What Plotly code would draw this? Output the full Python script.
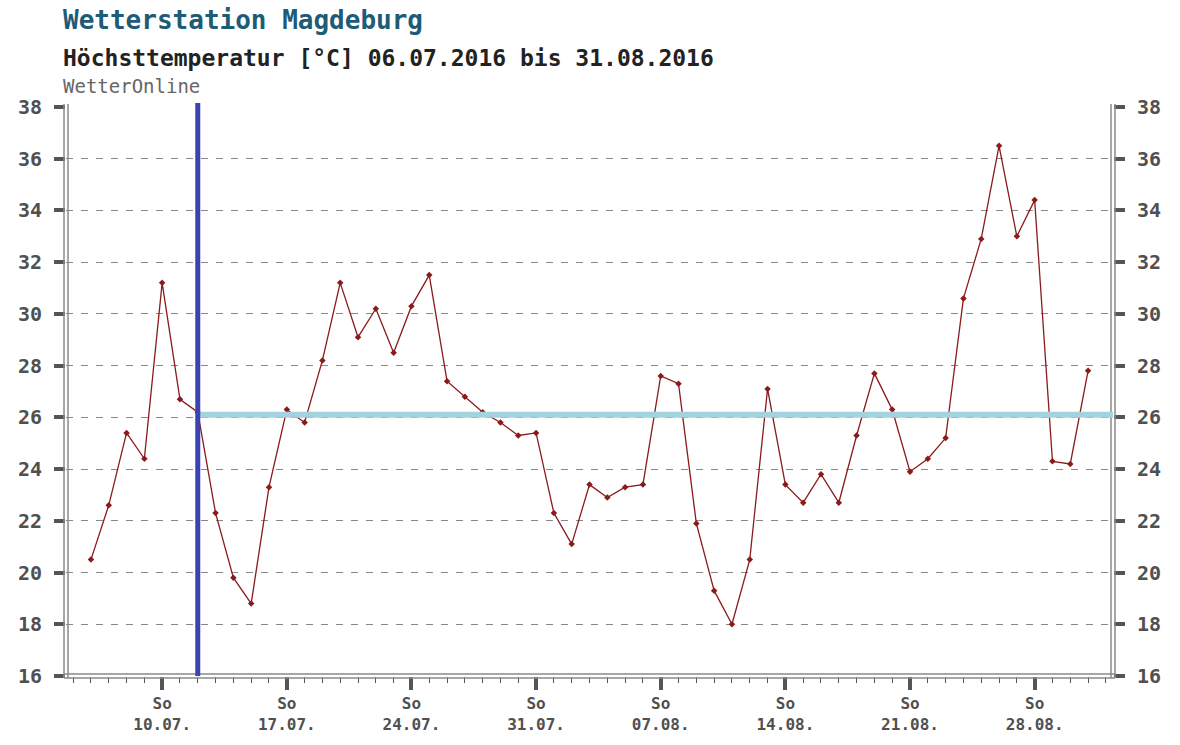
import plotly.graph_objects as go
import pandas as pd

# ---- data ----
start_date = "2016-07-06"
temps = [20.5, 22.6, 25.4, 24.4, 31.2, 26.7, 26.2, 22.3, 19.8, 18.8,
         23.3, 26.3, 25.8, 28.2, 31.2, 29.1, 30.2, 28.5, 30.3, 31.5,
         27.4, 26.8, 26.2, 25.8, 25.3, 25.4, 22.3, 21.1, 23.4, 22.9,
         23.3, 23.4, 27.6, 27.3, 21.9, 19.3, 18.0, 20.5, 27.1, 23.4,
         22.7, 23.8, 22.7, 25.3, 27.7, 26.3, 23.9, 24.4, 25.2, 30.6,
         32.9, 36.5, 33.0, 34.4, 24.3, 24.2, 27.8]
dates = pd.date_range(start_date, periods=len(temps), freq="D")

sunday_ticks = ["2016-07-10", "2016-07-17", "2016-07-24", "2016-07-31",
                "2016-08-07", "2016-08-14", "2016-08-21", "2016-08-28"]
sunday_labels = ["So<br>10.07.", "So<br>17.07.", "So<br>24.07.", "So<br>31.07.",
                 "So<br>07.08.", "So<br>14.08.", "So<br>21.08.", "So<br>28.08."]
y_ticks = [16, 18, 20, 22, 24, 26, 28, 30, 32, 34, 36, 38]

marker_date = "2016-07-12"
avg_temp = 26.1

title_text = "Wetterstation Magdeburg"
subtitle_text = "Höchsttemperatur [°C] 06.07.2016 bis 31.08.2016"
source_text = "WetterOnline"

# ---- figure ----
W, H = 1180, 745
ML, MR, MT, MB = 66, 67, 107, 69
PW = W - ML - MR
PH = H - MT - MB
px = 1.0 / PW
py = 1.0 / PH

MONO = "DejaVu Sans Mono"
red = "#8b1a1a"

fig = go.Figure()
fig.add_trace(go.Scatter(
    x=dates, y=temps, mode="lines+markers",
    line=dict(color=red, width=1.3),
    marker=dict(symbol="diamond", size=5, color=red),
    showlegend=False, hoverinfo="x+y",
))
# invisible trace to activate right axis
fig.add_trace(go.Scatter(x=[dates[0]], y=[temps[0]], yaxis="y2",
                         mode="markers", marker=dict(opacity=0),
                         showlegend=False, hoverinfo="skip"))

shapes = []
frame_col = "#8a8a8a"
for off in (-2, 2):
    shapes.append(dict(type="line", xref="paper", yref="paper",
                       x0=off * px, x1=off * px, y0=-2 * py, y1=1 + 3 * py,
                       line=dict(color=frame_col, width=1.5), layer="above"))
    shapes.append(dict(type="line", xref="paper", yref="paper",
                       x0=1 + off * px, x1=1 + off * px, y0=-2 * py, y1=1 + 3 * py,
                       line=dict(color=frame_col, width=1.5), layer="above"))
    shapes.append(dict(type="line", xref="paper", yref="paper",
                       x0=-2 * px, x1=1 + 2 * px, y0=off * py, y1=off * py,
                       line=dict(color=frame_col, width=1.5), layer="above"))

# average line and marker line
shapes.append(dict(type="line", xref="x", yref="y",
                   x0=marker_date, x1=dates[-1] + pd.Timedelta(days=1.4),
                   y0=avg_temp, y1=avg_temp,
                   line=dict(color="#a2d3de", width=6), layer="above"))
shapes.append(dict(type="line", xref="x", yref="paper",
                   x0=marker_date, x1=marker_date, y0=0, y1=1 + 4 * py,
                   line=dict(color="#3b43b3", width=5), layer="above"))

annotations = [
    dict(text="<b>" + title_text + "</b>", xref="paper", yref="paper",
         x=-5 * px, y=1 + (MT - 20) * py,
         xanchor="left", yanchor="middle", showarrow=False,
         font=dict(family=MONO, size=26, color="#1e5b77")),
    dict(text="<b>" + subtitle_text + "</b>", xref="paper", yref="paper",
         x=-5 * px, y=1 + (MT - 58) * py, xanchor="left", yanchor="middle",
         showarrow=False, font=dict(family=MONO, size=23, color="#222222")),
    dict(text=source_text, xref="paper", yref="paper", x=-5 * px, y=1 + (MT - 86) * py,
         xanchor="left", yanchor="middle", showarrow=False,
         font=dict(family=MONO, size=19, color="#666666")),
]

x0 = dates[0] - pd.Timedelta(days=1.4)
x1 = dates[-1] + pd.Timedelta(days=1.4)

tickfont = dict(family=MONO, size=20, color="#505050", weight="bold")

fig.update_layout(
    width=W, height=H,
    margin=dict(l=ML, r=MR, t=MT, b=MB),
    paper_bgcolor="white", plot_bgcolor="white",
    shapes=shapes, annotations=annotations,
    xaxis=dict(
        type="date", range=[x0, x1],
        tickmode="array", tickvals=sunday_ticks, ticktext=sunday_labels,
        ticks="outside", ticklen=13, tickwidth=4, tickcolor="#555555",
        tickfont=dict(family=MONO, size=16, color="#505050", weight="bold"),
        showgrid=False, showline=False, zeroline=False,
        minor=dict(dtick=86400000, tick0=start_date, ticks="outside",
                   ticklen=6, tickwidth=1, tickcolor="#555555", showgrid=False),
    ),
    yaxis=dict(
        range=[16, 38], tickmode="array", tickvals=y_ticks,
        ticks="outside", ticklen=11, tickwidth=4, tickcolor="#555555",
        tickfont=tickfont, ticklabelstandoff=8,
        showgrid=True, gridcolor="#888888", gridwidth=1.3, griddash="7px,8px",
        showline=False, zeroline=False,
    ),
    yaxis2=dict(
        range=[16, 38], tickmode="array", tickvals=y_ticks,
        overlaying="y", side="right",
        ticks="outside", ticklen=11, tickwidth=4, tickcolor="#555555",
        tickfont=tickfont, ticklabelstandoff=8,
        showgrid=False, showline=False, zeroline=False,
    ),
)

fig.write_html("out.html", config={"displayModeBar": False},
               post_script="document.body.style.margin='0';")
